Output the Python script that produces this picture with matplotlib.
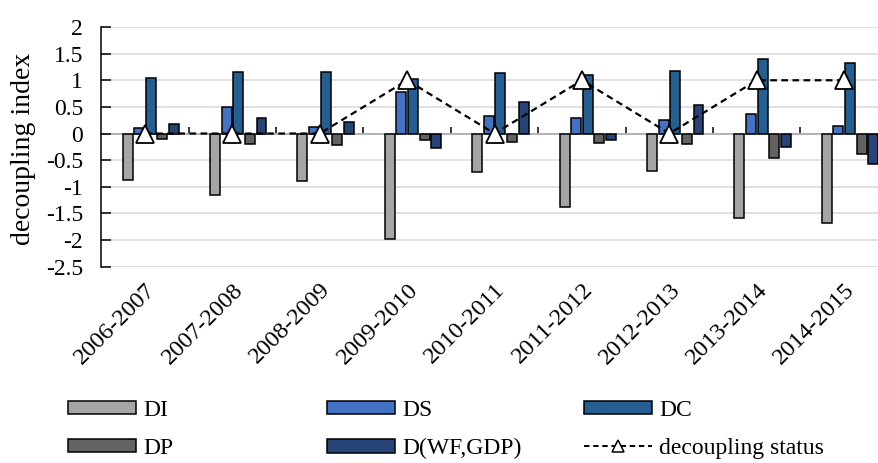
import numpy as np
import matplotlib
matplotlib.use('Agg')
import matplotlib.pyplot as plt
from matplotlib.patches import Patch
from matplotlib.lines import Line2D

# 各时期的脱钩指数数据
periods = ['2006-2007', '2007-2008', '2008-2009', '2009-2010', '2010-2011',
           '2011-2012', '2012-2013', '2013-2014', '2014-2015']
DI = [-0.875, -1.16, -0.89, -1.98, -0.72, -1.375, -0.70, -1.595, -1.675]
DS = [0.105, 0.49, 0.125, 0.78, 0.325, 0.30, 0.245, 0.375, 0.145]
DC = [1.04, 1.155, 1.155, 1.03, 1.14, 1.105, 1.175, 1.40, 1.325]
DP = [-0.107, -0.19, -0.21, -0.125, -0.157, -0.175, -0.205, -0.45, -0.375]
DWF = [0.175, 0.30, 0.21, -0.27, 0.595, -0.125, 0.53, -0.25, -0.575]
status = [0, 0, 0, 1, 0, 1, 0, 1, 1]

plt.rcParams['font.family'] = ['Liberation Serif', 'DejaVu Serif']
fs = 17

fig = plt.figure(figsize=(8.79, 4.63), dpi=100)
ax = fig.add_axes([101.3/879, 1-266.7/463, 786.6/879, (266.7-27)/463])

x = np.arange(len(periods))
w = 0.114
series = [(DI, '#A5A5A5', 'DI'), (DS, '#4472C4', 'DS'), (DC, '#255E91', 'DC'),
          (DP, '#636363', 'DP'), (DWF, '#264478', 'D(WF,GDP)')]
offs = [-0.2, -0.067, 0.067, 0.2, 0.333]
for (vals, col, lab), o in zip(series, offs):
    ax.bar(x + o, vals, w, color=col, edgecolor='black', linewidth=1.1, zorder=3)

ax.plot(x, status, color='black', ls='--', lw=1.6, dashes=(3, 2), marker='^',
        ms=13, mfc='white', mec='black', mew=1.3, zorder=5)

ax.set_xlim(-0.5, 8.5)
ax.set_ylim(-2.5, 2)
ax.set_yticks(np.arange(-2.5, 2.01, 0.5))
ax.set_yticklabels(['%g' % v for v in np.arange(-2.5, 2.01, 0.5)], fontsize=fs)
ax.yaxis.grid(True, color='#D9D9D9', lw=1.1, zorder=0)
ax.set_axisbelow(True)
ax.tick_params(axis='y', direction='in', length=7, width=1.1, pad=13)
for s in ['top', 'right', 'bottom']:
    ax.spines[s].set_visible(False)
ax.spines['left'].set_linewidth(1.1)

ax.set_xticks(x)
ax.set_xticklabels(periods, fontsize=17.5, rotation=45, ha='right', rotation_mode='anchor')
ax.tick_params(axis='x', length=0, pad=9)

# 0刻度处的横轴
sec = ax.secondary_xaxis(2.5/4.5)
sec.set_xticks(np.arange(0.5, 8.5, 1))
sec.set_xticklabels([])
sec.tick_params(direction='out', length=5, width=1.1)
sec.spines['bottom'].set_linewidth(1.1)
sec.spines['top'].set_linewidth(1.1)

ax.set_ylabel('decoupling index', fontsize=20)
ax.yaxis.set_label_coords(-0.083, 0.49)

# 图例
h = {lab: Patch(facecolor=col, edgecolor='black', linewidth=1.1) for vals, col, lab in series}
h_st = Line2D([], [], color='black', ls='--', lw=1.4, dashes=(2.8, 1.9), marker='^', ms=8.5,
              mfc='white', mec='black', mew=1.1)
cols = [(['DI', 'DP'], [h['DI'], h['DP']], 68),
        (['DS', 'D(WF,GDP)'], [h['DS'], h['D(WF,GDP)']], 327),
        (['DC', 'decoupling status'], [h['DC'], h_st], 584)]
for labs, hs, px in cols:
    fig.legend(hs, labs, loc='upper left', bbox_to_anchor=(px/879, 1-400/463),
               frameon=False, fontsize=fs, borderpad=0, borderaxespad=0,
               handlelength=2.88, handleheight=0.5, handletextpad=0.3,
               labelspacing=0.72)

fig.savefig('out.png', dpi=100)
